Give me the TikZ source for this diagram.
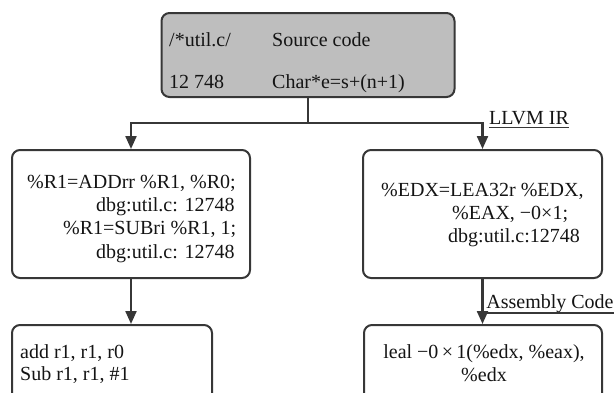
\documentclass[tikz,border=0pt]{standalone}
\usepackage{fontspec}
\setmainfont{Liberation Serif}
\usetikzlibrary{arrows.meta}
\definecolor{boxgray}{RGB}{190,190,190}
\definecolor{linecol}{RGB}{55,55,55}
\definecolor{txtcol}{RGB}{20,20,20}
\begin{document}
\begin{tikzpicture}[x=1pt,y=-1pt,
  box/.style={draw=linecol, line width=2pt, rounded corners=8pt, inner sep=0pt},
  txt/.style={font=\fontsize{20}{23}\selectfont, text=txtcol, inner sep=0pt, anchor=base west},
  ctxt/.style={font=\fontsize{20}{23}\selectfont, text=txtcol, inner sep=0pt, anchor=base},
  conn/.style={draw=linecol, line width=2.2pt},
  arr/.style={conn, -{Triangle[width=11pt,length=13pt]}},
  uline/.style={draw=linecol, line width=1.2pt}]
\useasboundingbox (0,0) rectangle (614,392);
\clip (0,0) rectangle (614,392);
% boxes
\node[box, fill=boxgray, minimum width=293pt, minimum height=84pt] (top) at (308,55) {};
\node[box, minimum width=238pt, minimum height=128pt] (left) at (131,214) {};
\node[box, minimum width=239pt, minimum height=128pt] (right) at (482.5,214) {};
\node[box, minimum width=200pt, minimum height=90pt] (bl) at (112,370) {};
\node[box, minimum width=238pt, minimum height=90pt] (br) at (483,370) {};
% top texts
\node[txt] (t1) at (169,46.5) {/*util.c/};
\node[txt] (t2) at (272,46.5) {Source code};
\node[txt] (t3) at (169,88.5) {12 748};
\node[txt] (t4) at (272,88.5) {Char*e=s+(n+1)};
% left texts
\node[txt] (l1) at (27,188.5) {\%R1=ADDrr \%R1, \%R0;};
\node[txt] (l2) at (96,211.5) {dbg:util.c: 12748};
\node[txt] (l3) at (63,234.5) {\%R1=SUBri \%R1, 1;};
\node[txt] (l4) at (96,258) {dbg:util.c: 12748};
% right texts
\node[txt] (r1) at (381,196.5) {\%EDX=LEA32r \%EDX,};
\node[txt] (r2) at (452,219.5) {\%EAX, −0×1;};
\node[txt] (r3) at (448,242.5) {dbg:util.c:12748};
% bottom-left texts
\node[txt] (b1) at (20,358.5) {add r1, r1, r0};
\node[txt] (b2) at (20,380.5) {Sub r1, r1, \#1};
% bottom-right texts
\node[ctxt] (c1) at (484,358.5) {leal −0\,×\,1(\%edx, \%eax),};
\node[ctxt] (c2) at (484,381.5) {\%edx};
% connectors
\coordinate (j) at (308,123);
\draw[conn] (top.south) -- (j);
\draw[arr] (j) -| (left.north);
\draw[arr] (j) -| (right.north);
\draw[arr] (left.south) -- (left.south |- bl.north);
\draw[arr] (right.south) -- (right.south |- br.north);
% labels
\node[ctxt] (llvm) at (529,124.5) {LLVM IR};
\draw[uline] ([yshift=-3pt]llvm.base west) -- ([yshift=-3pt]llvm.base east);
\node[ctxt] (asm) at (550,308.5) {Assembly Code};
\coordinate (ulA) at (483,313);
\coordinate (ulB) at (614,313);
\draw[uline] (ulA) -- (ulB);
\end{tikzpicture}
\end{document}
